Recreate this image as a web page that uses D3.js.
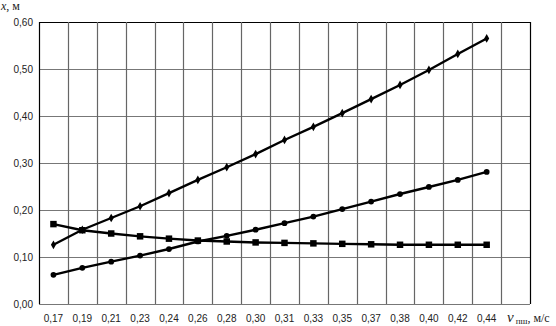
<!DOCTYPE html>
<html>
<head>
<meta charset="utf-8">
<script src="https://cdn.jsdelivr.net/npm/d3@7"></script>
<style>
body { margin: 0; background: #fff; }
.tick-label { font-family: "Liberation Sans", Arial, sans-serif; font-size: 10px; fill: #222; }
.axis-title { font-family: "Liberation Serif", "Times New Roman", serif; font-size: 12px; fill: #222; }
</style>
</head>
<body>
<div id="chart"></div>
<script>
// categories (speed, m/s); last column is empty
const categories = ["0,17","0,19","0,21","0,23","0,24","0,26","0,28","0,30","0,31","0,33","0,35","0,37","0,38","0,40","0,42","0,44",""];
const yTicks = [0, 0.1, 0.2, 0.3, 0.4, 0.5, 0.6];

const seriesUpper = [0.126,0.158,0.183,0.208,0.236,0.264,0.291,0.319,0.349,0.377,0.406,0.436,0.466,0.498,0.532,0.565];
const seriesLower = [0.062,0.077,0.090,0.103,0.117,0.133,0.145,0.158,0.172,0.186,0.202,0.218,0.234,0.249,0.264,0.281];
const seriesSquare = [0.170,0.157,0.150,0.144,0.139,0.135,0.133,0.131,0.130,0.129,0.128,0.127,0.126,0.126,0.126,0.126];

const W = 556, H = 326;
const plotL = 39, plotR = 530, plotT = 22, plotB = 304;

const svg = d3.select("#chart").append("svg").attr("width", W).attr("height", H);

const x = d3.scaleBand().domain(d3.range(categories.length)).range([plotL, plotR]);
const y = d3.scaleLinear().domain([0, 0.6]).range([plotB, plotT]);

// horizontal grid
svg.append("g").selectAll("line").data(yTicks).enter().append("line")
    .attr("x1", plotL).attr("x2", plotR)
    .attr("y1", d => Math.round(y(d)) + 0.5).attr("y2", d => Math.round(y(d)) + 0.5)
    .attr("stroke", d => d === 0.6 ? "#000" : "#777").attr("stroke-width", 1.2);

// vertical grid (between categories)
const bounds = d3.range(categories.length + 1).map(i => i < categories.length ? x(i) : plotR);
svg.append("g").selectAll("line").data(bounds).enter().append("line")
    .attr("x1", d => Math.round(d) + 0.5).attr("x2", d => Math.round(d) + 0.5)
    .attr("y1", plotT).attr("y2", plotB)
    .attr("stroke", (d, i) => (i === 0 || i === bounds.length - 1) ? "#000" : "#666").attr("stroke-width", 1.2);

// y tick labels
svg.append("g").selectAll("text").data(yTicks).enter().append("text")
    .attr("class", "tick-label")
    .attr("x", 33).attr("y", d => y(d) + 3.5)
    .attr("text-anchor", "end")
    .text(d => d3.format(".2f")(d).replace(".", ","));

// x tick labels
svg.append("g").selectAll("text").data(categories).enter().append("text")
    .attr("class", "tick-label")
    .attr("x", (d, i) => x(i) + x.bandwidth() / 2)
    .attr("y", 322)
    .attr("text-anchor", "middle")
    .text(d => d);

// axis titles
const yt = svg.append("text").attr("class", "axis-title").attr("x", 1).attr("y", 10);
yt.append("tspan").attr("font-style", "italic").text("x");
yt.append("tspan").text(", м");

const xt = svg.append("text").attr("class", "axis-title").attr("x", 507).attr("y", 322);
xt.append("tspan").attr("font-style", "italic").attr("font-size", "15px").text("v");
xt.append("tspan").attr("font-size", "9px").attr("dx", 2).attr("dy", 2).text("пш");
xt.append("tspan").attr("dy", -2).text(", м/с");

const cx = (d, i) => x(i) + x.bandwidth() / 2;
const line = d3.line().x(cx).y(d => y(d));

function drawSeries(data, marker) {
    const g = svg.append("g");
    g.append("path").datum(data).attr("d", line)
        .attr("fill", "none").attr("stroke", "#000").attr("stroke-width", 2.4);
    const sym = d3.symbol().type(marker.type).size(marker.size);
    g.selectAll("path.m").data(data).enter().append("path").attr("class", "m")
        .attr("transform", (d, i) => `translate(${cx(d, i)},${y(d)})`)
        .attr("d", sym).attr("fill", "#000");
}

drawSeries(seriesUpper, { type: d3.symbolDiamond, size: 22 });
drawSeries(seriesLower, { type: d3.symbolCircle, size: 26 });
drawSeries(seriesSquare, { type: d3.symbolSquare, size: 42 });
</script>
</body>
</html>
